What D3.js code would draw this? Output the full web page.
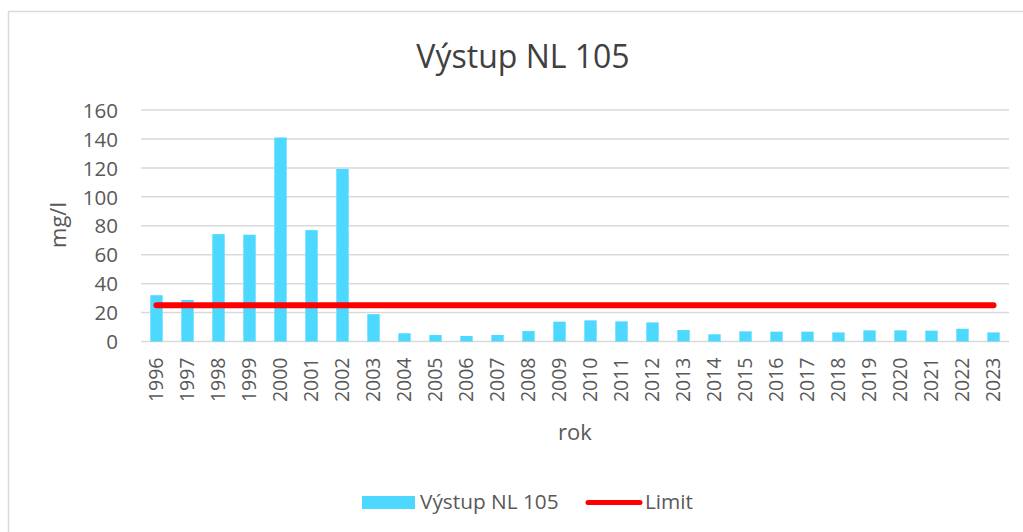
<!DOCTYPE html>
<html>
<head>
<meta charset="utf-8">
<script src="https://cdn.jsdelivr.net/npm/d3@7"></script>
<style>
  html, body { margin: 0; padding: 0; background: #fff; }
  svg { display: block; font-family: "Open Sans", sans-serif; }
</style>
</head>
<body>
<svg id="chart" width="1023" height="532"></svg>
<script>
const years = ["1996","1997","1998","1999","2000","2001","2002","2003","2004","2005","2006","2007","2008","2009","2010","2011","2012","2013","2014","2015","2016","2017","2018","2019","2020","2021","2022","2023"];
const values = [32, 28.7, 74.2, 73.8, 141, 77, 119.3, 18.9, 5.7, 4.5, 3.8, 4.5, 7.2, 13.7, 14.6, 13.9, 13.2, 7.9, 5.0, 7.0, 6.8, 6.8, 6.3, 7.7, 7.7, 7.5, 8.8, 6.3];
const limitValue = 25;
const yTicks = [0, 20, 40, 60, 80, 100, 120, 140, 160];
const titleText = "Výstup NL 105";
const seriesName = "Výstup NL 105";
const limitName = "Limit";
const xTitle = "rok";
const yTitle = "mg/l";

const svg = d3.select("#chart");
const textColor = "#595959";
const barColor = "#4DD9FF";
const limitColor = "#FF0000";
const gridColor = "#D9D9D9";

// chart border
svg.append("rect").attr("x", 8.5).attr("y", 11.5).attr("width", 1030).attr("height", 540)
  .attr("fill", "#fff").attr("stroke", "#D9D9D9").attr("stroke-width", 1.5);

const plotLeft = 141, plotRight = 1009, plotTop = 110, plotBottom = 341.5;

const x = d3.scaleBand().domain(years).range([plotLeft, plotRight]).paddingInner(0.6).paddingOuter(0.3);
const y = d3.scaleLinear().domain([0, 160]).range([plotBottom, plotTop]);

// gridlines
svg.append("g").selectAll("line").data(yTicks).join("line")
  .attr("x1", plotLeft).attr("x2", plotRight)
  .attr("y1", d => y(d)).attr("y2", d => y(d))
  .attr("stroke", gridColor).attr("stroke-width", 1.5);

// y axis labels
const yAxis = d3.axisLeft(y).tickValues(yTicks).tickSize(0).tickPadding(0);
const gy = svg.append("g").attr("transform", `translate(${plotLeft - 23},0)`).call(yAxis);
gy.select(".domain").remove();
gy.selectAll("text").attr("font-size", 20.5).attr("fill", textColor)
  .attr("font-family", "'Open Sans', sans-serif").attr("dy", "0.35em");

// bars
svg.append("g").selectAll("rect").data(years).join("rect")
  .attr("x", d => x(d))
  .attr("width", x.bandwidth())
  .attr("y", (d, i) => y(values[i]))
  .attr("height", (d, i) => y(0) - y(values[i]))
  .attr("fill", barColor);

// limit line
const limitLine = d3.line().x(d => x(d) + x.bandwidth() / 2).y(() => y(limitValue));
svg.append("path").datum(years).attr("d", limitLine)
  .attr("fill", "none").attr("stroke", limitColor).attr("stroke-width", 6)
  .attr("stroke-linecap", "round");

// x axis labels
const xAxis = d3.axisBottom(x).tickSize(0).tickPadding(0);
const gx = svg.append("g").attr("transform", `translate(0,${plotBottom})`).call(xAxis);
gx.select(".domain").remove();
gx.selectAll("text")
  .attr("font-size", 19.5).attr("fill", textColor)
  .attr("font-family", "'Open Sans', sans-serif")
  .attr("transform", "rotate(-90)")
  .attr("text-anchor", "end")
  .attr("x", -16).attr("y", 0).attr("dy", "0.35em");

// axis titles
svg.append("text").attr("x", (plotLeft + plotRight) / 2).attr("y", 440)
  .attr("text-anchor", "middle").attr("font-size", 22).attr("fill", textColor).text(xTitle);
svg.append("text").attr("transform", "translate(58,225) rotate(-90)")
  .attr("text-anchor", "middle").attr("dy", "0.35em").attr("font-size", 22).attr("fill", textColor).text(yTitle);

// title
svg.append("text").attr("x", 523).attr("y", 68)
  .attr("text-anchor", "middle").attr("font-size", 32).attr("fill", "#404040").text(titleText);

// legend
const lg = svg.append("g");
lg.append("rect").attr("x", 362).attr("y", 496).attr("width", 53).attr("height", 13).attr("fill", barColor);
lg.append("text").attr("x", 420).attr("y", 509).attr("font-size", 20.8).attr("fill", textColor).text(seriesName);
lg.append("line").attr("x1", 588).attr("x2", 640).attr("y1", 502.5).attr("y2", 502.5)
  .attr("stroke", limitColor).attr("stroke-width", 5).attr("stroke-linecap", "round");
lg.append("text").attr("x", 645).attr("y", 509).attr("font-size", 20.8).attr("fill", textColor).text(limitName);
</script>
</body>
</html>
